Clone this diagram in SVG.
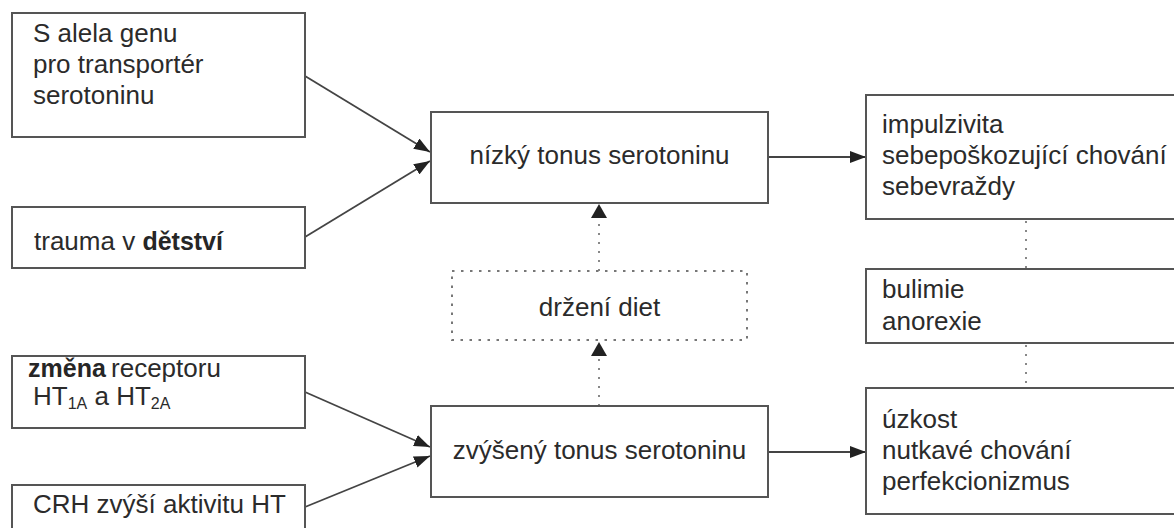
<svg xmlns="http://www.w3.org/2000/svg" width="1174" height="528" viewBox="0 0 1174 528">
<style>
.box{fill:#fff;stroke:#555;stroke-width:2}
.dbox{fill:#fff;stroke:#777;stroke-width:2;stroke-dasharray:2.5 6.5}
.t{font-family:"Liberation Sans",Arial,sans-serif;font-size:26px;fill:#2b2b2b}
.c{text-anchor:middle}
.ln{stroke:#444;stroke-width:1.8;fill:none}
.dl{stroke:#888;stroke-width:2;fill:none;stroke-dasharray:2 7}
.b{font-weight:bold;font-size:25px;fill:#262626}
.sub{font-size:16px}
</style>
<defs>
<marker id="ah" viewBox="0 0 16 12" refX="16" refY="6" markerWidth="16" markerHeight="12" markerUnits="userSpaceOnUse" orient="auto">
<path d="M0,0 L16,6 L0,12 Z" fill="#222"/>
</marker>
</defs>

<g id="connectors">
<line class="ln" x1="305" y1="76" x2="430" y2="152" marker-end="url(#ah)"/>
<line class="ln" x1="305" y1="237" x2="430" y2="161" marker-end="url(#ah)"/>
<line class="ln" x1="305" y1="392" x2="430" y2="447" marker-end="url(#ah)"/>
<line class="ln" x1="305" y1="507" x2="430" y2="456" marker-end="url(#ah)"/>
<line class="ln" x1="768" y1="157" x2="866" y2="157" marker-end="url(#ah)"/>
<line class="ln" x1="768" y1="452" x2="866" y2="452" marker-end="url(#ah)"/>
<line class="dl" x1="599" y1="271" x2="599" y2="214"/>
<path d="M591,218 L599,204 L607,218 Z" fill="#222"/>
<line class="dl" x1="599" y1="406" x2="599" y2="352"/>
<path d="M591,356 L599,342 L607,356 Z" fill="#222"/>
<line class="dl" x1="1026" y1="221" x2="1026" y2="268"/>
<line class="dl" x1="1026" y1="345" x2="1026" y2="388"/>
</g>

<g id="n-salela">
<rect class="box" x="12" y="13" width="293" height="124"/>
<text class="t" x="33" y="42">S alela genu</text>
<text class="t" x="33" y="73">pro transportér</text>
<text class="t" x="33" y="104">serotoninu</text>
</g>

<g id="n-trauma">
<rect class="box" x="12" y="207" width="293" height="61"/>
<text class="t" x="34" y="250">trauma v <tspan class="b">dětství</tspan></text>
</g>

<g id="n-zmena">
<rect class="box" x="12" y="356" width="293" height="72"/>
<text class="t" x="28" y="377"><tspan class="b">změna</tspan><tspan dx="-2"> receptoru</tspan></text>
<text class="t" x="33" y="405">HT<tspan class="sub" dy="4">1A</tspan><tspan dy="-4"> a HT</tspan><tspan class="sub" dy="4">2A</tspan></text>
</g>

<g id="n-crh">
<rect class="box" x="12" y="485" width="293" height="60"/>
<text class="t" x="33" y="513">CRH zvýší aktivitu HT</text>
</g>

<g id="n-nizky">
<rect class="box" x="431" y="112" width="337" height="91"/>
<text class="t c" x="599.5" y="164">nízký tonus serotoninu</text>
</g>

<g id="n-diet">
<rect class="dbox" x="452" y="271" width="295" height="69"/>
<text class="t c" x="599.5" y="316">držení diet</text>
</g>

<g id="n-zvyseny">
<rect class="box" x="431" y="406" width="337" height="91"/>
<text class="t c" x="599.5" y="459">zvýšený tonus serotoninu</text>
</g>

<g id="n-impulz">
<rect class="box" x="866" y="95" width="320" height="124"/>
<text class="t" x="882" y="133">impulzivita</text>
<text class="t" x="882" y="164">sebepoškozující chování</text>
<text class="t" x="882" y="195">sebevraždy</text>
</g>

<g id="n-bulimie">
<rect class="box" x="866" y="269" width="320" height="74"/>
<text class="t" x="882" y="298">bulimie</text>
<text class="t" x="882" y="330">anorexie</text>
</g>

<g id="n-uzkost">
<rect class="box" x="866" y="388" width="320" height="126"/>
<text class="t" x="882" y="428">úzkost</text>
<text class="t" x="882" y="459">nutkavé chování</text>
<text class="t" x="882" y="490">perfekcionizmus</text>
</g>
</svg>
